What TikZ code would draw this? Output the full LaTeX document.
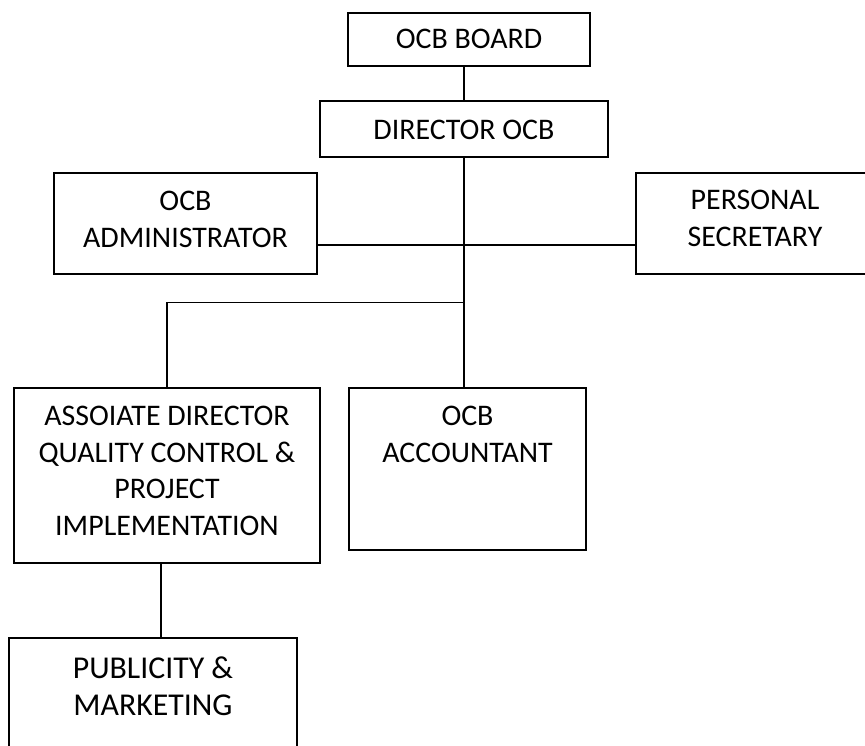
\documentclass[tikz,border=0pt]{standalone}
\usepackage{fontspec}
\setmainfont{Carlito}

\begin{document}
\begin{tikzpicture} [x = 1pt, y = -1pt,
  unit/.style = {draw, line width = 1.6pt, anchor = north, inner sep = 0pt, align = flush center,
    font = \fontsize{29.9}{36.5}\selectfont},
  link/.style = {line width = 1.3pt}]
\useasboundingbox (0.0, 0.0) rectangle (865.0, 745.0);
\clip (0.0, 0.0) rectangle (865.0, 745.0);
\node[unit, text width = 242pt, text height = 36pt, text depth = 17pt] (board) at (469.0, 12.0) {OCB BOARD};
\node[unit, text width = 288pt, text height = 39pt, text depth = 17pt] (director) at (464.0, 100.0) {DIRECTOR OCB};
\node[unit, text width = 263pt, text height = 38pt, text depth = 63pt] (admin) at (185.5, 172.0) {OCB\\ADMINISTRATOR};
\node[unit, text width = 238pt, text height = 37pt, text depth = 64pt] (secretary) at (755.0, 172.0) {PERSONAL\\SECRETARY};
\node[unit, text width = 306pt, text height = 38pt, text depth = 137pt] (associate) at (167.0, 387.0) {ASSOIATE DIRECTOR\\QUALITY CONTROL \&\\PROJECT\\IMPLEMENTATION};
\node[unit, text width = 237pt, text height = 38pt, text depth = 124pt] (accountant) at (467.5, 387.0) {OCB\\ACCOUNTANT};
\node[unit, text width = 288pt, text height = 41pt, text depth = 160pt,
  font = \fontsize{31.8}{37}\selectfont] (publicity) at (153.0, 637.0) {PUBLICITY \&\\MARKETING};
\coordinate (hub) at (464.0, 245.0);
\coordinate (fork) at (464.0, 302.5);
\coordinate (drop) at (161.0, 0.0);
\draw[link] (director.north) -- (director.north |- board.south);
\draw[link] (director.south) -- (director.south |- accountant.north);
\draw[link] (admin.east |- hub) -- (secretary.west |- hub);
\draw[link] (fork) -| (associate.north);
\draw[link] (associate.south -| drop) -- (publicity.north -| drop);
\end{tikzpicture}
\end{document}
